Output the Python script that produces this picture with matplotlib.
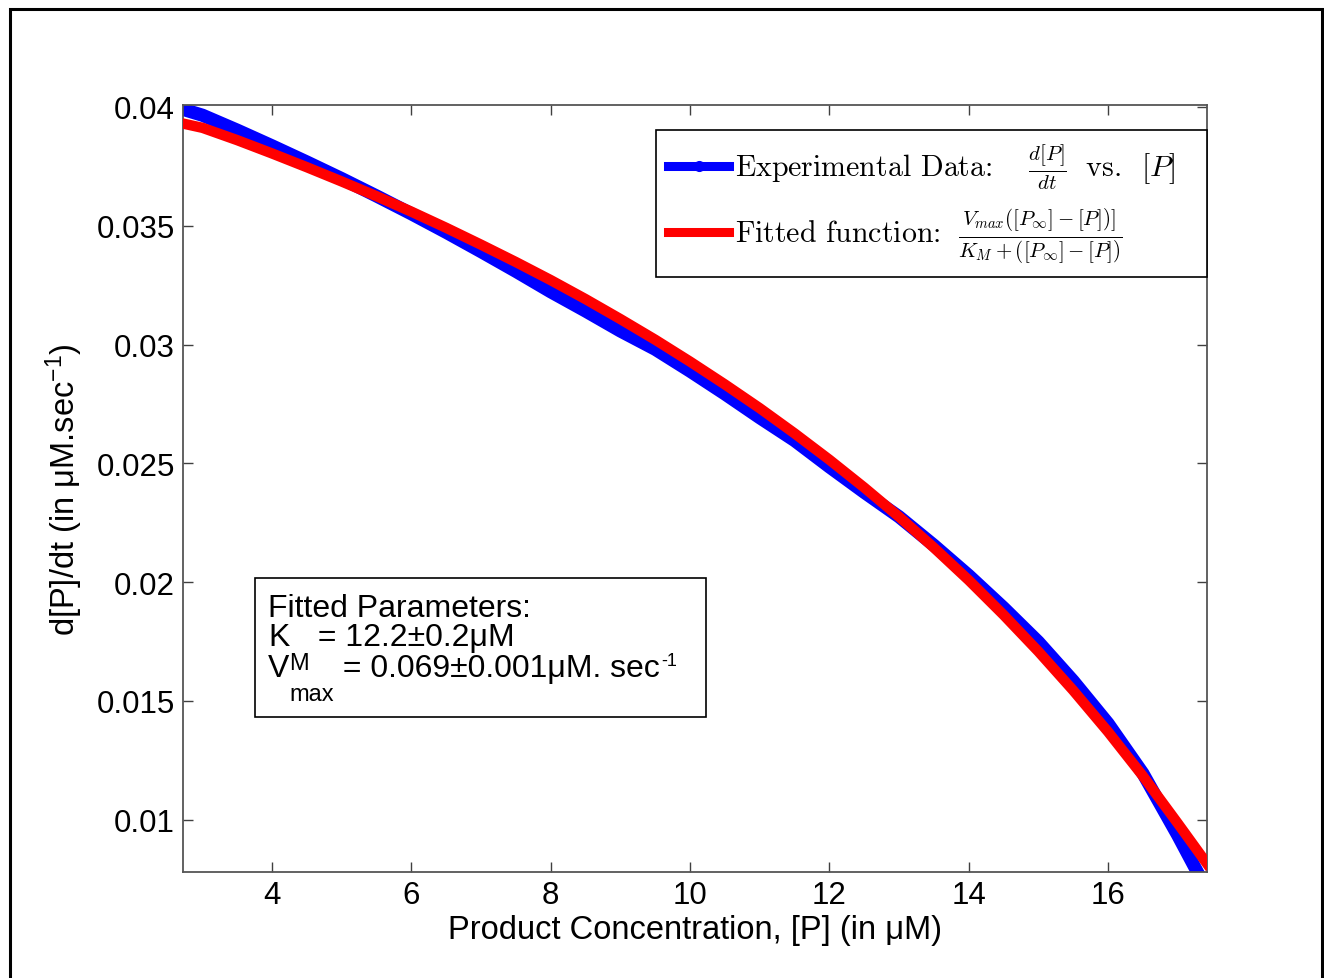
import matplotlib
matplotlib.use('Agg')
import matplotlib.pyplot as plt
from matplotlib.lines import Line2D
from matplotlib.patches import Rectangle
from matplotlib.font_manager import FontProperties

# values
data_p = [2.72, 3.0, 3.5, 4.0, 4.5, 5.0, 5.5, 6.0, 6.5, 7.0, 7.5, 8.0, 8.5, 9.0, 9.5,
          10.0, 10.5, 11.0, 11.5, 12.0, 12.5, 13.0, 13.5, 14.0, 14.5, 15.0, 15.5,
          16.0, 16.5, 17.0, 17.3]
data_v = [0.03990, 0.03965, 0.03902, 0.03836, 0.03768, 0.03698, 0.03625, 0.03550,
          0.03472, 0.03391, 0.03308, 0.03222, 0.03141, 0.03057, 0.02980, 0.02888,
          0.02792, 0.02692, 0.02596, 0.02485, 0.02378, 0.02275, 0.02155, 0.02028,
          0.01892, 0.01748, 0.01584, 0.01405, 0.01195, 0.00935, 0.00770]

fit_p = [2.72, 3.0, 3.5, 4.0, 4.5, 5.0, 5.5, 6.0, 6.5, 7.0, 7.5, 8.0, 8.5, 9.0, 9.5,
         10.0, 10.5, 11.0, 11.5, 12.0, 12.5, 13.0, 13.5, 14.0, 14.5, 15.0, 15.5,
         16.0, 16.5, 17.0, 17.42]
fit_v = [0.03930, 0.03912, 0.03860, 0.03804, 0.03746, 0.03686, 0.03624, 0.03559,
         0.03491, 0.03420, 0.03347, 0.03271, 0.03191, 0.03107, 0.03020, 0.02928,
         0.02832, 0.02732, 0.02626, 0.02515, 0.02398, 0.02275, 0.02145, 0.02008,
         0.01862, 0.01708, 0.01544, 0.01370, 0.01184, 0.00985, 0.00815]

xticks = [4, 6, 8, 10, 12, 14, 16]
yticks = [0.01, 0.015, 0.02, 0.025, 0.03, 0.035, 0.04]
ytick_labels = ['0.01', '0.015', '0.02', '0.025', '0.03', '0.035', '0.04']

plt.rcParams['font.family'] = 'Liberation Sans'
plt.rcParams['mathtext.fontset'] = 'custom'
plt.rcParams['mathtext.rm'] = 'Liberation Sans'
plt.rcParams['mathtext.it'] = 'Liberation Sans:italic'

fig = plt.figure(figsize=(13.24, 9.79), dpi=100)
ax = fig.add_axes([0.1382, 0.1083, 0.7734, 0.7834])

ax.plot(data_p, data_v, color='blue', lw=9.5, zorder=2)
ax.plot(fit_p, fit_v, color='red', lw=7.5, zorder=3)

ax.set_xlim(2.72, 17.42)
ax.set_ylim(0.0078, 0.04008)
ax.set_xticks(xticks)
ax.set_yticks(yticks)
ax.set_yticklabels(ytick_labels)
ax.tick_params(direction='in', length=7, width=1, top=True, right=True,
               labelsize=22.5, color='#404040', pad=6)
for s in ax.spines.values():
    s.set_color('#555555')
    s.set_linewidth(1.3)

ax.set_xlabel('Product Concentration, [P] (in μM)', fontsize=23.5, labelpad=3)
ax.set_ylabel(r'd[P]/dt (in μM.sec$^{-1}$)', fontsize=23.5, labelpad=8)

# legend, latex look, box stretched to the size in the picture
handles = [Line2D([], [], color='blue', lw=6.5, marker='.', ms=14),
           Line2D([], [], color='red', lw=6.5)]
labels = [r'Experimental Data: $\quad\frac{d[P]}{dt}\;$ vs.  $[P]$',
          r'Fitted function: $\;\frac{V_{max}([P_\infty]-[P])]}{K_M+([P_\infty]-[P])}$']
leg = ax.legend(handles, labels, loc='upper left',
                bbox_to_anchor=(0.462, 0.7836, 0.538, 0.1838), mode='expand',
                borderaxespad=0, fancybox=False, edgecolor='black', framealpha=1,
                handlelength=2.05, handletextpad=0.2, borderpad=0.4, labelspacing=0.5,
                prop=FontProperties(family='cmr10', size=21.5, math_fontfamily='cm'))
leg.get_frame().set_linewidth(1.2)

# fitted parameters box
ax.add_patch(Rectangle((0.0703, 0.2021), 0.4404, 0.1812, transform=ax.transAxes,
                       facecolor='white', edgecolor='black', lw=1.2, zorder=4))
fs = 23
fs_sub = 17
ax.text(0.083, 0.3338, 'Fitted Parameters:', transform=ax.transAxes, fontsize=fs,
        va='baseline', zorder=5)
tk = ax.text(0.083, 0.2960, 'K', transform=ax.transAxes, fontsize=fs, va='baseline', zorder=5)
tks = ax.annotate('M', xy=(1, 0.2960), xycoords=(tk, ax.transAxes), xytext=(0, -17),
                  textcoords='offset points', fontsize=fs_sub, va='baseline', zorder=5)
ax.annotate(' = 12.2±0.2μM', xy=(1, 0.2960), xycoords=(tks, ax.transAxes),
            fontsize=fs, va='baseline', zorder=5)
tv = ax.text(0.083, 0.2555, 'V', transform=ax.transAxes, fontsize=fs, va='baseline', zorder=5)
tvs = ax.annotate('max', xy=(1, 0.2555), xycoords=(tv, ax.transAxes), xytext=(0, -17),
                  textcoords='offset points', fontsize=fs_sub, va='baseline', zorder=5)
tvr = ax.annotate(' = 0.069±0.001μM. sec', xy=(1, 0.2555), xycoords=(tvs, ax.transAxes),
                  fontsize=fs, va='baseline', zorder=5)
ax.annotate('-1', xy=(1, 0.2555), xycoords=(tvr, ax.transAxes), xytext=(1, 8),
            textcoords='offset points', fontsize=13, va='baseline', zorder=5)

# outer frame
fig.patches.append(Rectangle((10 / 1324, -0.1), 1312 / 1324, 1 - 10 / 979 + 0.1,
                             transform=fig.transFigure, fill=False, lw=2.2,
                             edgecolor='black'))

fig.savefig('out.png', dpi=100)
